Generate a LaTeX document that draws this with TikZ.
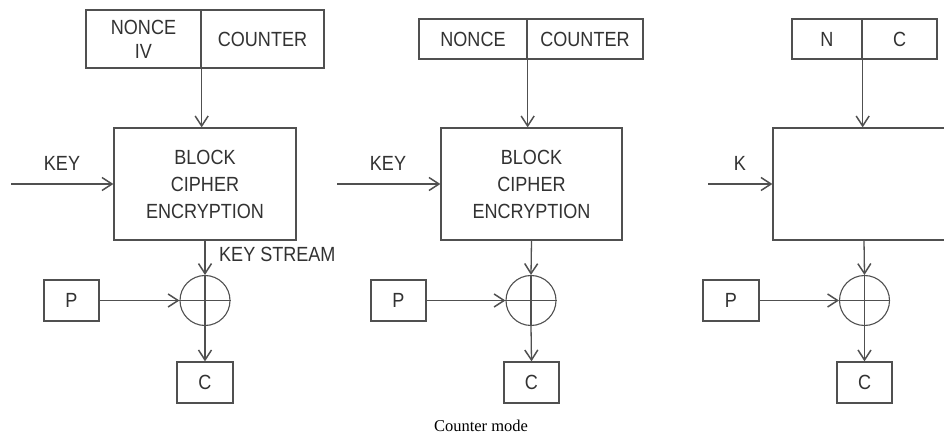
\documentclass[tikz,border=0pt]{standalone}
\usepackage{fontspec}
\newfontfamily\diagfont{Liberation Sans}[FakeStretch=0.88]
\newfontfamily\captionfont{Liberation Serif}
\usetikzlibrary{arrows.meta}
\definecolor{linegray}{RGB}{80,80,80}
\definecolor{textgray}{RGB}{50,50,50}
\begin{document}
\begin{tikzpicture}[x=1pt,y=-1pt,
  every node/.style={font=\diagfont\fontsize{20.5}{27}\selectfont, text=textgray},
  box/.style={draw=linegray, line width=1.3pt, rectangle, inner sep=0pt, align=center},
  xorc/.style={draw=linegray, line width=1.1pt, circle, minimum size=50pt, inner sep=0pt},
  conn/.style={draw=linegray, line width=1.3pt},
  arr/.style={conn, -{Straight Barb[length=10pt,width=13pt,line width=1.5pt]}},
  lbl/.style={anchor=base, inner sep=0pt}
]
\useasboundingbox[fill=white] (0,0) rectangle (944,435);
\clip (0,0) rectangle (944,435);

% ---------- panel 1 ----------
\node[box, minimum width=115pt, minimum height=58pt, font=\diagfont\fontsize{20.5}{24}\selectfont] (n1) at (143.5,39) {NONCE\\IV};
\node[box, minimum width=123pt, minimum height=58pt] (c1) at (262.5,39) {COUNTER};
\node[box, minimum width=182pt, minimum height=112pt] (b1) at (205,184) {BLOCK\\CIPHER\\ENCRYPTION};
\coordinate (k1) at (11,184);
\node[lbl] (kl1) at (62,171) {KEY};
\node[xorc] (x1) at (205,300.5) {};
\node[box, minimum width=55pt, minimum height=41pt] (p1) at (71.5,300.5) {P};
\node[box, minimum width=56pt, minimum height=41pt] (o1) at (205,382.5) {C};
\node[lbl, anchor=base west] (ks) at (219,262) {KEY STREAM};

\draw[arr] (n1.south east) -- (n1.south east |- b1.north);
\draw[arr] (k1) -- (b1.west);
\draw[arr] (b1.south) -- (x1.north);
\draw[conn] (x1.north) -- (x1.south);
\draw[conn] (x1.west) -- (x1.east);
\draw[arr] (x1.south) -- (o1.north);
\draw[arr] (p1.east) -- (x1.west);

% ---------- panel 2 ----------
\node[box, minimum width=108pt, minimum height=40pt] (n2) at (473,39) {NONCE};
\node[box, minimum width=116pt, minimum height=40pt] (c2) at (585,39) {COUNTER};
\node[box, minimum width=181pt, minimum height=112pt] (b2) at (531.5,184) {BLOCK\\CIPHER\\ENCRYPTION};
\coordinate (k2) at (337,184);
\node[lbl] (kl2) at (388,171) {KEY};
\node[xorc] (x2) at (531,300.5) {};
\node[box, minimum width=55pt, minimum height=41pt] (p2) at (398.5,300.5) {P};
\node[box, minimum width=55pt, minimum height=41pt] (o2) at (531.5,382.5) {C};

\draw[arr] (n2.south east) -- (n2.south east |- b2.north);
\draw[arr] (k2) -- (b2.west);
\draw[arr] (b2.south) -- (x2.north);
\draw[conn] (x2.north) -- (x2.south);
\draw[conn] (x2.west) -- (x2.east);
\draw[arr] (x2.south) -- (o2.north);
\draw[arr] (p2.east) -- (x2.west);

% ---------- panel 3 ----------
\node[box, minimum width=70pt, minimum height=40pt] (n3) at (827,39) {N};
\node[box, minimum width=75pt, minimum height=40pt] (c3) at (899.5,39) {C};
\node[box, minimum width=182pt, minimum height=112pt] (b3) at (864,184) {};
\coordinate (k3) at (708,184);
\node[lbl] (kl3) at (740,171) {K};
\node[xorc] (x3) at (864.5,300.5) {};
\node[box, minimum width=56pt, minimum height=41pt] (p3) at (731,300.5) {P};
\node[box, minimum width=55pt, minimum height=41pt] (o3) at (864.5,382.5) {C};

\draw[arr] (n3.south east) -- (n3.south east |- b3.north);
\draw[arr] (k3) -- (b3.west);
\draw[arr] (b3.south) -- (x3.north);
\draw[conn] (x3.north) -- (x3.south);
\draw[conn] (x3.west) -- (x3.east);
\draw[arr] (x3.south) -- (o3.north);
\draw[arr] (p3.east) -- (x3.west);

% ---------- caption ----------
\node[lbl, font=\captionfont\fontsize{16.5}{18}\selectfont, text=black] (cap) at (481,431) {Counter mode};
\end{tikzpicture}
\end{document}
